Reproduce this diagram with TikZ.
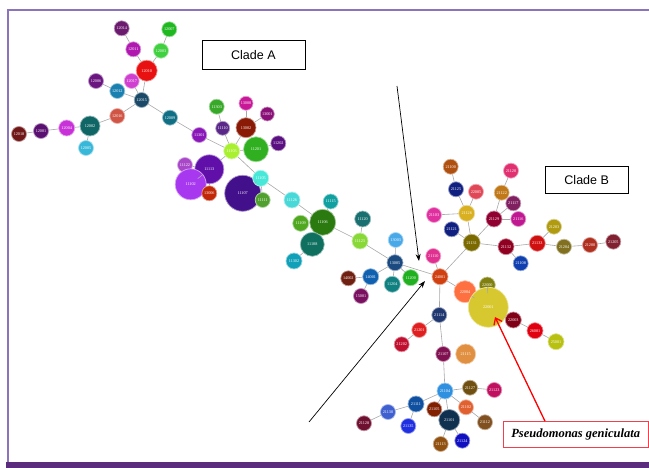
\documentclass[tikz,border=0pt]{standalone}
\usepackage{fontspec}
\usetikzlibrary{arrows.meta}
\newfontfamily\cladefont{Liberation Sans}
\newfontfamily\labfont{Liberation Serif}

\definecolor{framelav}{HTML}{8C74BC}
\definecolor{framebar}{HTML}{5B2C7D}
\definecolor{linkgray}{HTML}{A8A8A8}
\definecolor{boxred}{HTML}{F0404E}

\tikzset{
  bubble/.style={circle, inner sep=0pt, line width=0.7pt, text=white,
    font=\fontsize{4.2}{4.5}\selectfont\labfont},
  link/.style={linkgray, line width=0.6pt},
  cladebox/.style={draw, line width=0.8pt, inner sep=0pt,
    font=\fontsize{12.5}{14}\selectfont\cladefont},
  pointer/.style={-{Stealth[length=7pt,width=5pt]}, line width=0.7pt},
}

\begin{document}
\begin{tikzpicture}[x=1pt, y=-1pt]
  \useasboundingbox (0,0) rectangle (649,468);

  % Frame
  \draw[framelav, line width=2pt] (649,10.5) -- (7.5,10.5) -- (7.5,462);
  \fill[framebar] (6,461.5) rectangle (649,468);

  % Isolates
  \foreach \n/\x/\y/\r/\c in {
    12014/121.7/28.3/7.5/6B1A6E, 12007/169.3/29.3/7.5/20B820,
    12011/133.3/49.3/7.5/B018B0, 12003/161/50.7/7.5/40D040,
    12010/146.7/70.7/10.5/E81010, 12006/96/81/7.5/6A1580,
    12017/131.7/81/7.5/D040D0, 12012/117.3/91/7.5/1A80B0,
    12015/141.7/100/7.5/1A4A68, 12016/117.3/116/7.5/D05545,
    12009/170/117.7/7.5/106F85, 12002/90/126/10/106565,
    12004/66.7/128/8/C830D8, 12001/41/131/7.5/5A1070,
    12018/19/134/7.5/701818, 12005/86/148/7.5/38B8D8,
    11301/199.3/135/7.5/8A18B8, 11303/216.7/106.7/7.5/38A828,
    13000/246/103.3/7/C81898, 13001/267.3/114/7/8A1078,
    11110/222.7/128.3/7/5A2888, 13002/246/127.7/10/8A1A05,
    11103/231.7/151/8/A8F030, 11201/256/149.3/12.5/30B020,
    11202/278.3/143.3/7.5/5A1080, 11122/185/165/7.5/A848C8,
    11113/209.3/169.3/14.5/6010A8, 11102/190.7/184.3/15.5/A838F0,
    13006/209.3/193.3/7.5/C02808, 11107/242.7/193.3/18/42108A,
    11105/260.7/178.3/8/48E8D8, 11111/262.7/200/7.5/50A030,
    11126/292/200/8/48D8D8, 11115/330.7/201.5/7.5/10A0A0,
    11109/300.7/223.3/8/50A820, 11106/322.7/222.3/13/2A7A10,
    11120/362.7/219/8/1A7070, 11108/312.3/244.3/12/107060,
    11123/360/241/8/88D838, 11302/294/261/8/10A0B8,
    13003/395.7/240/7.5/48A8E8, 13005/395/262.7/8/1A4A80,
    14002/348.3/278.3/7.5/702010, 14001/370.7/276.7/8/1060B0,
    11204/392.3/284.3/8/108080, 11200/410.7/277.7/8/20B020,
    15001/361/296/7.5/7A1060, 24001/440/276.7/8/D04010,
    21100/450.7/166.7/7.5/B05010, 21125/456/189.3/7.5/102080,
    22005/476/191.7/7.5/E04858, 21120/511/170.7/7.5/E03070,
    21122/501.7/192.7/7.5/C07818, 21117/513.3/203.3/7.5/802060,
    21103/434/215/7.5/E030A0, 21126/466.7/213.3/8/D8B020,
    21129/494/219/8/900030, 21116/518.3/219/7.5/C01890,
    21121/451.7/229.3/7.5/102080, 21203/554/226.7/7.5/B09A10,
    21131/471.7/242.7/8.5/7A6A00, 21132/506/246.7/8/900020,
    21133/537.3/243.3/8/D01010, 21204/564/246.7/7.5/807020,
    21200/590/245/7.5/B03020, 21205/613.3/241.7/7.5/802030,
    21108/520.7/263.3/7.5/1040B0, 21110/433.3/256/7.5/E03090,
    22004/465/291.7/11/FF7040, 22000/487.3/285/8/808010,
    22001/488.3/307.3/20/D8C830, 22003/513.3/320/8/800015,
    26001/535/330.7/8/E00010, 25001/556/341.7/8/B8C010,
    21114/439.3/315/7.5/203870, 21201/419.3/330/7.5/E02020,
    21202/401.7/344.3/7.5/C01030, 21107/443.3/354/7.5/801050,
    21115/465.7/354/10/E09040, 21104/445/391/8/3090E0,
    21127/470/387.7/7.5/705010, 21123/494.3/390/7.5/C01060,
    21111/416/404/8/1050A0, 21105/434.3/409.3/7.5/802000,
    21102/466/407.3/7.5/E06030, 21101/449.3/420/10.5/103050,
    21112/485/422.3/7.5/805020, 21130/388/412/7.5/4060D0,
    21128/364/423.3/7.5/701030, 21135/408.3/426/7.5/2030E0,
    21113/440.7/444/7.5/905010, 21124/462.3/440.7/7.5/1010C0} {
    \definecolor{bubcol}{HTML}{\c}
    \node[bubble, minimum size=2*\r, fill=bubcol, draw=bubcol!45!white]
      (\n) at (\x,\y) {\n};
  }

  % Links
  \foreach \a/\b in {
    12014/12011, 12011/12010, 12007/12003, 12003/12010, 12010/12015,
    12017/12015, 12006/12012, 12012/12015, 12016/12015, 12015/12009,
    12002/12016, 12004/12002, 12001/12004, 12018/12001, 12005/12002,
    12009/11301, 11301/11103, 11303/11110, 11110/11103, 13002/11103,
    13000/13002, 13001/13002, 11201/11103, 11202/11201, 11113/11103,
    11122/11113, 11102/11113, 13006/11113, 11103/11105, 11107/11105,
    11111/11105, 11105/11126, 11126/11106, 11115/11106, 11109/11106,
    11108/11106, 11302/11108, 11106/11123, 11120/11123, 11123/13005,
    13003/13005, 14001/13005, 14002/14001, 15001/14001, 11204/13005,
    11200/13005, 13005/24001,
    21110/24001, 24001/21131, 21121/21131, 21126/21131, 21103/21126,
    21125/21126, 21100/21125, 22005/21126, 21129/21131, 21122/21129,
    21120/21122, 21117/21129, 21116/21129, 21132/21131, 21133/21132,
    21108/21132, 21203/21133, 21204/21133, 21200/21204, 21205/21200,
    24001/22004, 22004/22001, 22000/22001, 22001/22003, 22003/26001,
    26001/25001,
    24001/21114, 21114/21201, 21201/21202, 21114/21107, 21107/21104,
    21104/21127, 21127/21123, 21104/21111, 21111/21130, 21130/21128,
    21111/21135, 21104/21105, 21104/21101, 21104/21102, 21102/21112,
    21101/21113, 21101/21124} {
    \draw[link] (\a) -- (\b);
  }

  % Clade labels
  \node[cladebox, minimum width=103pt, minimum height=29pt] (cladeA)
    at (253.4,55) {Clade A};
  \node[cladebox, minimum width=83pt, minimum height=27pt] (cladeB)
    at (586.7,179.7) {Clade B};
  \node[draw=boxred, line width=1pt, inner sep=0pt, minimum width=145pt,
    minimum height=25.6pt, font=\fontsize{12.5}{14}\selectfont\labfont\bfseries\itshape]
    (pgen) at (575.7,434.5) {Pseudomonas geniculata};

  % Pointers
  \coordinate (startA) at (397,86);
  \coordinate (tipA) at (419,261);
  \coordinate (startB) at (309,422);
  \coordinate (tipB) at (425,281);
  \coordinate (tipP) at (495,317);
  \draw[pointer] (startA) -- (tipA);
  \draw[pointer] (startB) -- (tipB);
  \draw[red, line width=1.3pt, -{Straight Barb[length=6pt,width=9pt]}]
    (pgen.north -| 545,0) -- (tipP);
\end{tikzpicture}
\end{document}
